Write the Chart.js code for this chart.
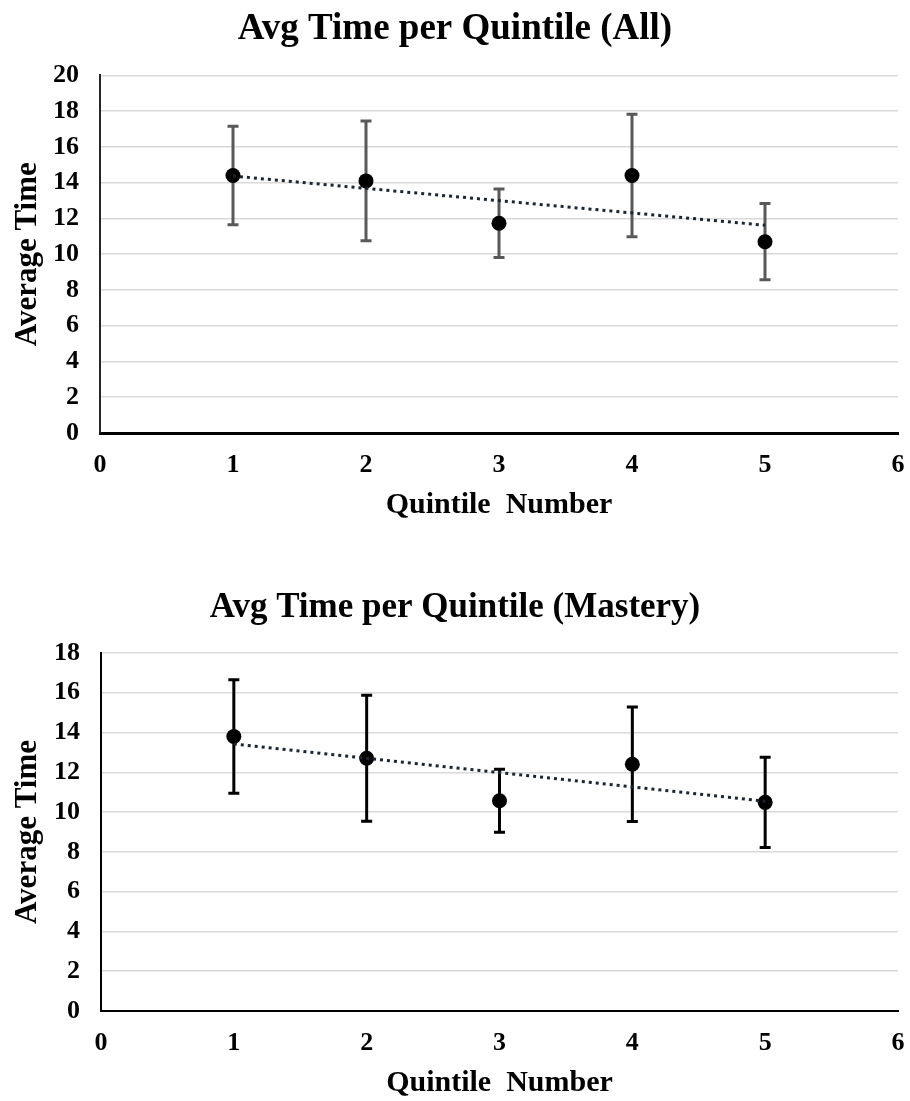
<!DOCTYPE html>
<html>
<head>
<meta charset="utf-8">
<script src="https://cdn.jsdelivr.net/npm/chart.js@4"></script>
<style>
  html, body { margin: 0; padding: 0; background: #fff; }
  #wrap { position: relative; width: 910px; height: 1101px; }
  #wrap canvas { position: absolute; left: 0; }
</style>
</head>
<body>
<div id="wrap">
  <canvas id="chart-all" style="top:0;"></canvas>
  <canvas id="chart-mastery" style="top:540px;"></canvas>
</div>
<script>
const quintiles = [1, 2, 3, 4, 5];
const xTicks = [0, 1, 2, 3, 4, 5, 6];

const allMeans = [14.4, 14.1, 11.73, 14.4, 10.7];
const allErrors = [2.75, 3.35, 1.92, 3.43, 2.13];
const allTrend = [14.37, 11.62];

const masteryMeans = [13.8, 12.71, 10.57, 12.41, 10.49];
const masteryErrors = [2.85, 3.17, 1.58, 2.88, 2.27];
const masteryTrend = [13.43, 10.55];

const trendX = [1, 5];

const serif = "'Liberation Serif', 'Times New Roman', serif";

// error bars drawn under the markers
const errorBarPlugin = {
    id: 'errorBars',
    beforeDatasetsDraw(chart, args, opts) {
        const ctx = chart.ctx;
        const xs = chart.scales.x;
        const ys = chart.scales.y;
        ctx.save();
        ctx.strokeStyle = opts.color;
        ctx.lineWidth = opts.width;
        opts.means.forEach((m, i) => {
            const px = xs.getPixelForValue(quintiles[i]);
            const top = ys.getPixelForValue(m + opts.errors[i]);
            const bot = ys.getPixelForValue(m - opts.errors[i]);
            const cap = opts.cap / 2;
            ctx.beginPath();
            ctx.moveTo(px, top);
            ctx.lineTo(px, bot);
            ctx.moveTo(px - cap, top);
            ctx.lineTo(px + cap, top);
            ctx.moveTo(px - cap, bot);
            ctx.lineTo(px + cap, bot);
            ctx.stroke();
        });
        ctx.restore();
    }
};

function makeChart(id, cfg) {
    const canvas = document.getElementById(id);
    canvas.width = 910;
    canvas.height = cfg.height;
    canvas.style.width = '910px';
    canvas.style.height = cfg.height + 'px';

    return new Chart(canvas.getContext('2d'), {
        type: 'scatter',
        data: {
            datasets: [
                {
                    label: 'Trend',
                    data: trendX.map((x, i) => ({ x: x, y: cfg.trend[i] })),
                    showLine: true,
                    borderColor: '#1c2633',
                    borderWidth: 3,
                    borderDash: [3, 4],
                    pointRadius: 0,
                    order: 0
                },
                {
                    label: 'Average',
                    data: quintiles.map((q, i) => ({ x: q, y: cfg.means[i] })),
                    pointRadius: 7.5,
                    pointBackgroundColor: '#000',
                    pointBorderColor: '#000',
                    pointBorderWidth: 0,
                    order: 1
                }
            ]
        },
        plugins: [errorBarPlugin],
        options: {
            responsive: false,
            animation: false,
            layout: {
                autoPadding: false,
                padding: { top: 0, right: 0, bottom: 0, left: 0 }
            },
            scales: {
                x: {
                    type: 'linear',
                    min: 0,
                    max: 6,
                    afterBuildTicks: s => { s.ticks = xTicks.map(v => ({ value: v })); },
                    afterFit: s => {
                        s.height = cfg.xHeight;
                        s.paddingLeft = 0;
                        s.paddingRight = 12;
                    },
                    grid: { display: false, drawTicks: false },
                    border: { display: true, color: '#000', width: cfg.xBorder },
                    ticks: {
                        padding: 17,
                        color: '#000',
                        font: { family: serif, size: 26, weight: 'bold' }
                    },
                    title: {
                        display: true,
                        text: 'Quintile  Number',
                        color: '#000',
                        padding: { top: 0, bottom: 0 },
                        font: { family: serif, size: 30, weight: 'bold' }
                    }
                },
                y: {
                    min: 0,
                    max: cfg.yMax,
                    ticks: {
                        stepSize: 2,
                        padding: 21,
                        color: '#000',
                        font: { family: serif, size: 26, weight: 'bold' }
                    },
                    afterFit: s => { s.width = cfg.yWidth; },
                    grid: { color: '#d9d9d9', lineWidth: 1.5, drawTicks: false },
                    border: { display: true, color: cfg.yBorderColor, width: 2 },
                    title: {
                        display: true,
                        text: 'Average Time',
                        color: '#000',
                        padding: { top: 9, bottom: 0 },
                        font: { family: serif, size: 31, weight: 'bold' }
                    }
                }
            },
            plugins: {
                legend: { display: false },
                tooltip: { enabled: false },
                title: {
                    display: true,
                    text: cfg.title,
                    color: '#000',
                    padding: cfg.titlePadding,
                    font: { family: serif, size: cfg.titleSize, weight: 'bold' }
                },
                errorBars: {
                    means: cfg.means,
                    errors: cfg.errors,
                    color: cfg.barColor,
                    width: 3,
                    cap: 11
                }
            }
        }
    });
}

makeChart('chart-all', {
    height: 523,
    title: 'Avg Time per Quintile (All)',
    titleSize: 37,
    titlePadding: { top: 7, bottom: 24 },
    means: allMeans,
    errors: allErrors,
    trend: allTrend,
    yMax: 20,
    yWidth: 100,
    xHeight: 90,
    xBorder: 3,
    yBorderColor: '#262626',
    barColor: '#595959'
});

makeChart('chart-mastery', {
    height: 561,
    title: 'Avg Time per Quintile (Mastery)',
    titleSize: 35,
    titlePadding: { top: 47, bottom: 24 },
    means: masteryMeans,
    errors: masteryErrors,
    trend: masteryTrend,
    yMax: 18,
    yWidth: 101,
    xHeight: 90,
    xBorder: 2,
    yBorderColor: '#000',
    barColor: '#000'
});
</script>
</body>
</html>
